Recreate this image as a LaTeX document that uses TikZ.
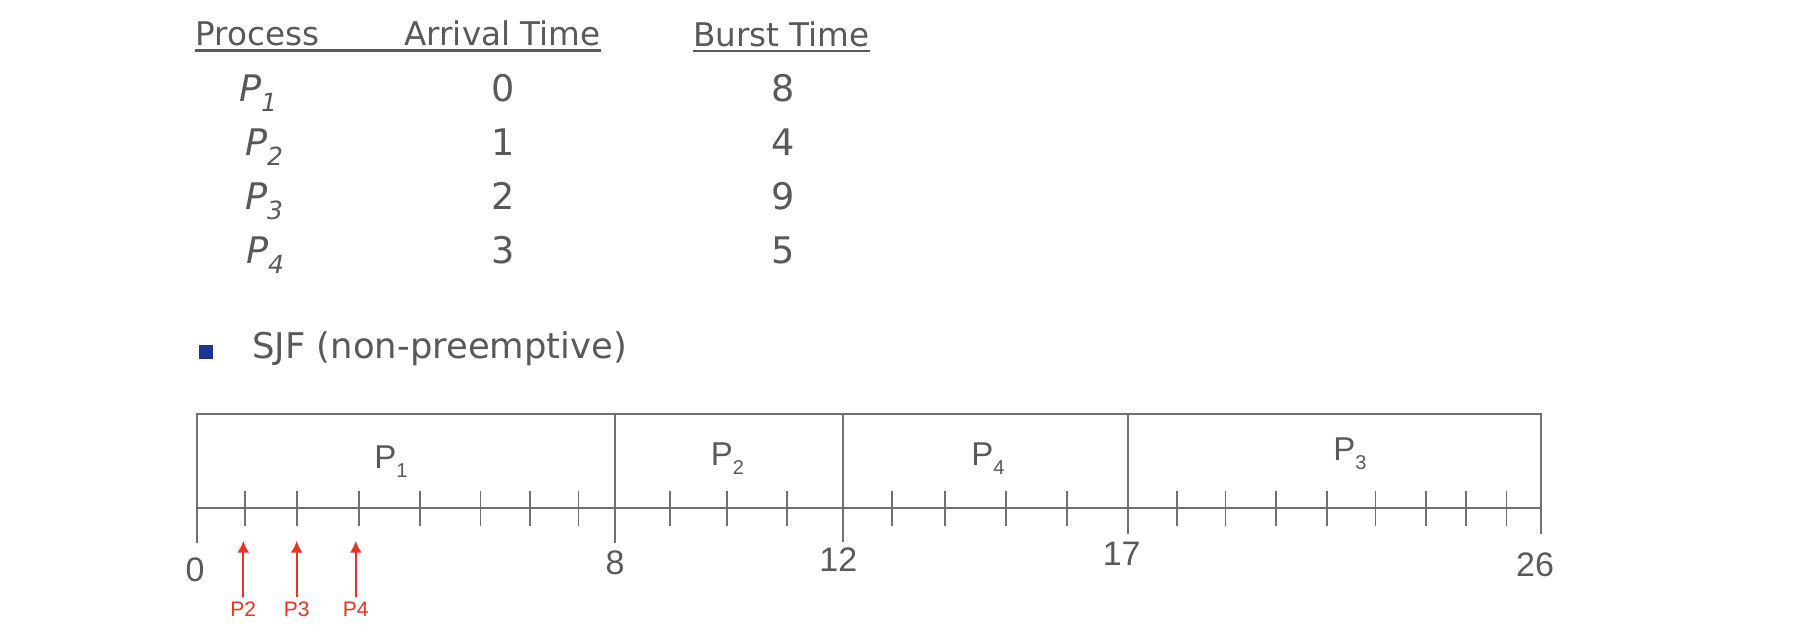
\documentclass[tikz,border=0pt]{standalone}
\usepackage{fontspec}
\setmainfont{DejaVu Sans}
\newfontfamily\ganttfont{Liberation Sans}
\usepackage{tikz}
\usetikzlibrary{arrows.meta,positioning}
\definecolor{txtgrey}{RGB}{89,89,89}
\definecolor{linegrey}{RGB}{112,112,112}
\definecolor{arrred}{RGB}{234,51,35}
\definecolor{bulletblue}{RGB}{27,52,148}
\newcommand{\rowp}[1]{\textit{P}\raisebox{-5pt}{\fontsize{12.5}{14}\selectfont\itshape #1}}
\newcommand{\ganttp}[1]{P\raisebox{-4.5pt}{\fontsize{10}{12}\selectfont #1}}

\begin{document}
\begin{tikzpicture}[x=0.5pt,y=-0.5pt,
  every node/.style={text=txtgrey,inner sep=0pt},
  hd/.style={anchor=base west,font=\fontsize{16.3}{19}\selectfont},
  cell/.style={anchor=base,font=\fontsize{18.3}{22}\selectfont},
  seg/.style={anchor=base,font=\ganttfont\fontsize{16.5}{20}\selectfont},
  tm/.style={anchor=base,font=\ganttfont\fontsize{17}{20}\selectfont},
  rl/.style={anchor=base,text=arrred,inner sep=2.5pt,font=\ganttfont\fontsize{10.5}{12}\selectfont},
  ln/.style={linegrey,line width=0.9pt},
  ar/.style={-{Latex[length=6pt,width=6pt]},arrred,line width=1pt}]
\useasboundingbox (0,0) rectangle (1812,634);
% process table
\node[hd] (hproc) at (195,45) {Process};
\node[hd] (harr) at (404,45) {Arrival Time};
\node[hd] (hbur) at (693,46) {Burst Time};
\draw[txtgrey,line width=1.3pt] ([yshift=-2.8pt]hproc.base west) -- ([yshift=-2.8pt]harr.base east);
\draw[txtgrey,line width=1.3pt] ([yshift=-2.4pt]hbur.base west) -- ([yshift=-2.4pt]hbur.base east);
\node[cell] (p1) at (258,101.5) {\rowp{1}};
\node[cell] (a1) at (503,101.5) {0};
\node[cell] (b1) at (783,101.5) {8};
\node[cell] (p2) at (264,155.5) {\rowp{2}};
\node[cell] (a2) at (503,155.5) {1};
\node[cell] (b2) at (783,155.5) {4};
\node[cell] (p3) at (264,209.5) {\rowp{3}};
\node[cell] (a3) at (503,209.5) {2};
\node[cell] (b3) at (783,209.5) {9};
\node[cell] (p4) at (265,263.5) {\rowp{4}};
\node[cell] (a4) at (503,263.5) {3};
\node[cell] (b4) at (783,263.5) {5};
% bullet
\node[fill=bulletblue,minimum size=7pt] (bul) at (206,352) {};
\node[anchor=base west,font=\fontsize{17.7}{21}\selectfont] (sjf) at (252,358.3) {SJF (non-preemptive)};
% gantt chart
\draw[ln] (196.7,543) -- (196.7,414.3) -- (1541.3,414.3) -- (1541.3,534);
\draw[ln] (196.7,507.7) -- (1541.3,507.7);
\draw[ln] (615,414.3) -- (615,543);
\draw[ln] (843,414.3) -- (843,541.7);
\draw[ln] (1128.3,414.3) -- (1128.3,534);
\foreach \x in {245,297.3,359,419.7,480.4,529.8,578.5,670,727.3,786.7,892.3,944.7,1006,1066.7,1176.6,1225.5,1275.6,1326.7,1375.4,1425.8,1466.2,1506.4}
  \draw[ln] (\x,490.7) -- (\x,525.7);
\node[seg] (s1) at (391,468.3) {\ganttp{1}};
\node[seg] (s2) at (727.5,465) {\ganttp{2}};
\node[seg] (s4) at (988,465) {\ganttp{4}};
\node[seg] (s3) at (1350,460) {\ganttp{3}};
\node[tm] (t0) at (195,581.7) {0};
\node[tm] (t8) at (615,574) {8};
\node[tm] (t12) at (838.3,571.7) {12};
\node[tm] (t17) at (1121.7,565.7) {17};
\node[tm] (t26) at (1535,576.7) {26};
% arrivals
\node[rl] (r2) at (243.3,616.7) {P2};
\node[rl] (r3) at (296.7,616.7) {P3};
\node[rl] (r4) at (355.8,616.7) {P4};
\coordinate (r2t) at (243.3,540.7);
\coordinate (r3t) at (296.7,540.7);
\coordinate (r4t) at (355.8,540.7);
\draw[ar] (r2) -- (r2t);
\draw[ar] (r3) -- (r3t);
\draw[ar] (r4) -- (r4t);
\end{tikzpicture}
\end{document}
